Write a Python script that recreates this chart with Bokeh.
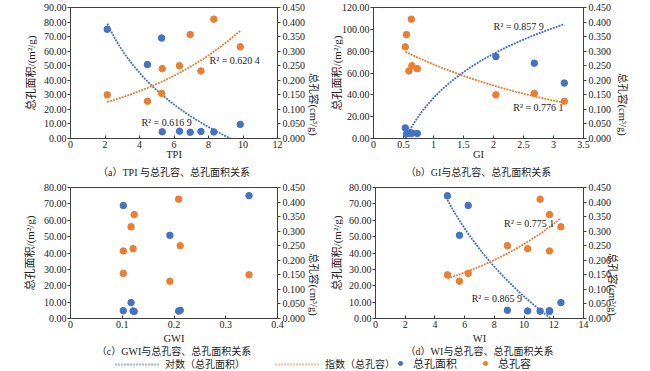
import numpy as np
from bokeh.plotting import figure
from bokeh.models import (Range1d, LinearAxis, FixedTicker, Label, Title, Legend,
                          LegendItem, PrintfTickFormatter)
from bokeh.layouts import column, row
from bokeh.embed import file_html
from bokeh.resources import INLINE

# ---------------- data ----------------
area = [75.0, 50.8, 69.0, 4.8, 5.0, 4.3, 4.6, 4.5, 9.7]          # 总孔面积 m2/g
volume = [0.150, 0.128, 0.155, 0.232, 0.250, 0.357, 0.240, 0.410, 0.315]  # 总孔容 cm3/g
tpi = [2.13, 4.46, 5.28, 7.56, 6.32, 6.94, 5.32, 8.31, 9.84]
gi = [2.04, 3.18, 2.68, 0.59, 0.64, 0.55, 0.73, 0.63, 0.53]
gwi = [0.345, 0.192, 0.102, 0.102, 0.212, 0.123, 0.121, 0.209, 0.117]
wi = [4.84, 5.65, 6.24, 11.71, 8.88, 11.71, 10.24, 11.08, 12.48]

# trendline coefficients
# logarithmic: area = a*ln(x) + b ; exponential: vol = c*exp(k*x)
log_a = {"a": -53.7, "b": 58.4, "d": -81.3}
log_b = {"a": 119.6, "b": 37.1, "d": 200.7}
exp_c = {"a": 0.0929, "b": 0.356, "d": 0.0768}
exp_k = {"a": 0.1405, "b": -0.335, "d": 0.1204}
r2_log = {"a": "R² = 0.616 9", "b": "R² = 0.857 9", "d": "R² = 0.865 9"}
r2_exp = {"a": "R² = 0.620 4", "b": "R² = 0.776 1", "d": "R² = 0.775 1"}

tpi_ticks = [0, 2, 4, 6, 8, 10, 12]
tpi_labels = ["0", "2", "4", "6", "8", "10", "12"]
gi_ticks = [0, 0.5, 1, 1.5, 2, 2.5, 3, 3.5]
gi_labels = ["0", "0.5", "1", "1.5", "2", "2.5", "3", "3.5"]
gwi_ticks = [0, 0.1, 0.2, 0.3, 0.4]
gwi_labels = ["0", "0.1", "0.2", "0.3", "0.4"]
wi_ticks = [0, 2, 4, 6, 8, 10, 12, 14]
wi_labels = ["0", "2", "4", "6", "8", "10", "12", "14"]
area_ticks_a = [0, 10, 20, 30, 40, 50, 60, 70, 80, 90]
area_ticks_b = [0, 20, 40, 60, 80, 100, 120]
area_ticks_cd = [0, 10, 20, 30, 40, 50, 60, 70, 80]
vol_ticks = [0, 0.05, 0.1, 0.15, 0.2, 0.25, 0.3, 0.35, 0.4, 0.45]

captions = {"a": "（a）TPI 与总孔容、总孔面积关系",
            "b": "（b）GI与总孔容、总孔面积关系",
            "c": "（c）GWI与总孔容、总孔面积关系",
            "d": "（d）WI与总孔容、总孔面积关系"}
area_title = "总孔面积/(m²/g)"
vol_title = "总孔容(cm³/g)"

BLUE = "#4472C4"
ORANGE = "#ED7D31"
AX = "#404040"
TXT = "#222222"
FONT = "Liberation Serif, Noto Sans CJK SC"


def panel(key, x, xname, xticks, xlabels, ymax, yticks, width, height,
          borders, standoffs, r2pos=None):
    left, right, top, bottom = borders
    so_left, so_right, so_x, so_cap = standoffs
    p = figure(width=width, height=height, output_backend="svg", toolbar_location=None,
               x_range=Range1d(xticks[0], xticks[-1]), y_range=Range1d(0, ymax),
               min_border_left=left, min_border_right=right,
               min_border_top=top, min_border_bottom=bottom)
    p.extra_y_ranges = {"vol": Range1d(0, 0.45)}
    p.grid.visible = False
    p.outline_line_color = AX
    p.outline_line_width = 1
    p.background_fill_color = "white"
    p.border_fill_color = "white"

    xa = p.xaxis[0]
    xa.ticker = FixedTicker(ticks=xticks)
    xa.major_label_overrides = {float(t): l for t, l in zip(xticks, xlabels)}
    xa.axis_label = xname
    ya = p.yaxis[0]
    ya.ticker = FixedTicker(ticks=yticks)
    ya.formatter = PrintfTickFormatter(format="%.2f")
    ya.axis_label = area_title
    ra = LinearAxis(y_range_name="vol", ticker=FixedTicker(ticks=vol_ticks),
                    formatter=PrintfTickFormatter(format="%.3f"),
                    axis_label=vol_title)
    p.add_layout(ra, "right")
    for ax in (xa, ya, ra):
        ax.axis_line_color = AX
        ax.major_tick_line_color = AX
        ax.minor_tick_line_color = None
        ax.major_label_text_font = FONT
        ax.major_label_text_font_size = "10px"
        ax.major_label_text_color = TXT
        ax.axis_label_text_font = FONT
        ax.axis_label_text_font_size = "10.5px"
        ax.axis_label_text_font_style = "normal"
        ax.axis_label_text_color = TXT
    ya.axis_label_text_font_size = "11px"
    if hasattr(ra, "axis_label_orientation"):
        ra.axis_label_orientation = -np.pi / 2
    xa.major_tick_in = 3
    xa.major_tick_out = 0
    xa.major_label_standoff = 2
    xa.axis_label_standoff = so_x
    ya.major_tick_in = 0
    ya.major_tick_out = 3
    ya.major_label_standoff = 1
    ya.axis_label_standoff = so_left
    ra.major_tick_in = 0
    ra.major_tick_out = 3
    ra.major_label_standoff = 2
    ra.axis_label_standoff = so_right

    cap = Title(text=captions[key], align="center", text_font=FONT,
                text_font_size="10px", text_font_style="normal",
                text_color=TXT, standoff=so_cap)
    p.add_layout(cap, "below")

    # trendlines
    if key in log_a:
        xs = np.linspace(min(x), max(x), 120)
        p.line(xs, log_a[key] * np.log(xs) + log_b[key], line_color=BLUE,
               line_width=1.8, line_dash="2 1")
        p.line(xs, exp_c[key] * np.exp(exp_k[key] * xs), line_color=ORANGE,
               line_width=1.8, line_dash="2 1", y_range_name="vol")

    p.scatter(x, area, size=6.5, color=BLUE)
    p.scatter(x, volume, size=6.5, color=ORANGE, y_range_name="vol")

    if r2pos:
        for txt, (lx, ly) in zip((r2_exp[key], r2_log[key]), r2pos):
            p.add_layout(Label(x=lx, y=ly, text=txt, text_font=FONT,
                               text_font_size="10px", text_color=TXT,
                               text_baseline="middle", text_align="left"))
    return p


pa = panel("a", tpi, "TPI", tpi_ticks, tpi_labels, 90, area_ticks_a,
           327, 179, (70, 44, 6, 41), (4, 5, -2, 4),
           r2pos=[(8.06, 53.9), (4.11, 10.9)])
pb = panel("b", gi, "GI", gi_ticks, gi_labels, 120, area_ticks_b,
           323, 179, (44, 67, 7, 41), (-4, 8, -2, 4),
           r2pos=[(2.33, 28.4), (2.0, 102.6)])
pc = panel("c", gwi, "GWI", gwi_ticks, gwi_labels, 80, area_ticks_cd,
           327, 179, (70, 44, 8, 40), (5, 5, 2, -5))
pd_ = panel("d", wi, "WI", wi_ticks, wi_labels, 80, area_ticks_cd,
            323, 179, (44, 67, 8, 40), (3, -2, 2, -5),
            r2pos=[(8.65, 58.0), (6.47, 12.2)])

# ---------------- legend strip ----------------
# the legend's own renderers hold the real series but lie outside this strip's ranges
lg = figure(width=650, height=13, output_backend="svg", toolbar_location=None,
            x_range=Range1d(-1, 0), y_range=Range1d(-1, 0),
            min_border=0, x_axis_location=None, y_axis_location=None)
lg.grid.visible = False
lg.outline_line_color = None
r1 = lg.line(tpi, area, line_color=BLUE, line_width=2, line_dash="1 2")
r2 = lg.line(tpi, volume, line_color=ORANGE, line_width=2, line_dash="1 2")
r3 = lg.scatter(tpi, area, size=6, color=BLUE)
r4 = lg.scatter(tpi, volume, size=6, color=ORANGE)
common = dict(orientation="horizontal", padding=0, margin=0,
              border_line_color=None, background_fill_alpha=0,
              label_text_font=FONT, label_text_color=TXT,
              glyph_height=12, label_height=12)
legA = Legend(items=[LegendItem(label="对数（总孔面积）", renderers=[r1]),
                     LegendItem(label="指数（总孔容）", renderers=[r2])],
              location=(115, 0), glyph_width=45, label_standoff=5, spacing=30,
              label_text_font_size="10px", **common)
legB = Legend(items=[LegendItem(label="总孔面积", renderers=[r3]),
                     LegendItem(label="总孔容", renderers=[r4])],
              location=(395, 0), glyph_width=10, label_standoff=8, spacing=23,
              label_text_font_size="11px", **common)
lg.add_layout(legA)
lg.add_layout(legB)

layout = column(row(pa, pb), row(pc, pd_), lg)

open("out.html", "w").write(file_html(layout, INLINE))
